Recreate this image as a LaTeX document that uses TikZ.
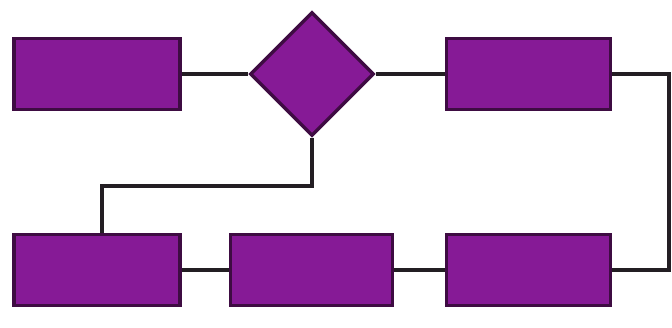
\documentclass[tikz,border=0pt]{standalone}
\usetikzlibrary{shapes.geometric}
\definecolor{boxfill}{RGB}{134,26,150}
\definecolor{boxline}{RGB}{62,12,66}
\definecolor{wire}{RGB}{35,30,35}
\begin{document}
\begin{tikzpicture}[x=1pt,y=1pt,
  stepbox/.style={draw=boxline,fill=boxfill,line width=3.4pt,minimum height=71pt,inner sep=0pt},
  decide/.style={diamond,draw=boxline,fill=boxfill,line width=3.4pt,minimum width=124pt,minimum height=124pt,inner sep=0pt},
  wireline/.style={draw=wire,line width=3.6pt}]
\useasboundingbox (0,0) rectangle (672,327);
\fill[white] (0,0) rectangle (672,327);
\node[stepbox,minimum width=166pt] (a) at (97,253) {};
\node[decide] (d) at (312,253) {};
\node[stepbox,minimum width=164pt] (b) at (528.5,253) {};
\node[stepbox,minimum width=166pt] (c) at (97,57) {};
\node[stepbox,minimum width=162pt] (e) at (311.5,57) {};
\node[stepbox,minimum width=164pt] (f) at (528.5,57) {};
\coordinate (r) at (669,253);
\coordinate (k) at (102,141);
\draw[wireline] (a.east) -- (d.west);
\draw[wireline] (d.east) -- (b.west);
\draw[wireline] (b.east) -- (r) |- (f.east);
\draw[wireline] (f.west) -- (e.east);
\draw[wireline] (e.west) -- (c.east);
\draw[wireline] (d.south) |- (k) -- (k |- c.north);
\end{tikzpicture}
\end{document}
